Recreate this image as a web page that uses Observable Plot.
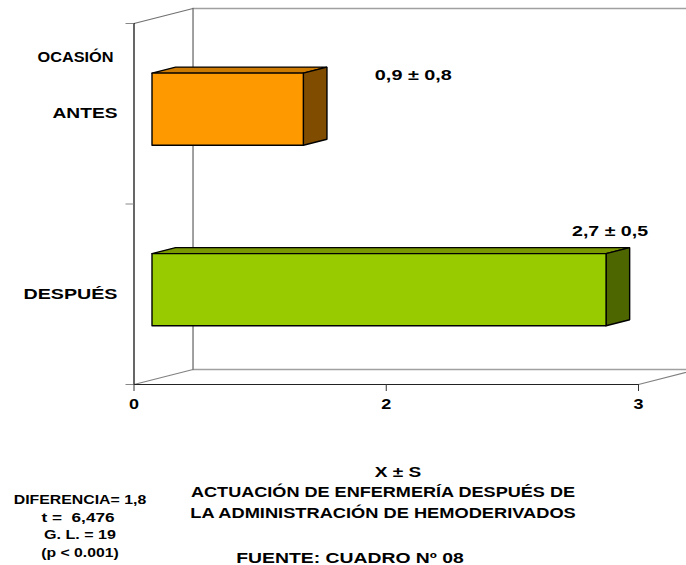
<!DOCTYPE html>
<html lang="es">
<head>
<meta charset="utf-8">
<script src="https://cdn.jsdelivr.net/npm/d3@7"></script>
<script src="https://cdn.jsdelivr.net/npm/@observablehq/plot@0.6"></script>
<style>
  html, body { margin: 0; padding: 0; background: #fff; overflow: hidden; }
  #page { position: relative; width: 686px; height: 565px; }
  .cap { position: absolute; font-family: "Liberation Sans", Arial, sans-serif; font-weight: bold; color: #000; text-align: center; white-space: pre; }
</style>
</head>
<body>
<div id="page"></div>
<script>
// Data
const categories = ["ANTES", "DESPUÉS"];
const levels = [1.5, 0.5];
const means = [0.9, 2.7];
const meanLabels = ["0,9 ± 0,8", "2,7 ± 0,5"];
const frontColors = ["#FF9900", "#99CC00"];
const sideColors = ["#804D00", "#4D6600"];
const topColors = ["#CC7A00", "#7A9900"];
const xTicks = [0, 1.5, 3];
const xTickLabels = ["0", "2", "3"];
const yTicks = [0, 1, 2];

// The source text is horizontally stretched: rendered width of each string
const textWidths = {
  "OCASIÓN": 76, "ANTES": 65, "DESPUÉS": 94,
  "0,9 ± 0,8": 77, "2,7 ± 0,5": 76,
  "0": 10, "2": 10, "3": 10
};

// 3-D projection of the chart box: depth 0 = front, depth 1 = back wall
const depthX = 0.351, depthY = 0.0831, xMax = 3, yMax = 2;
const barNear = 0.305, barFar = 0.705, barHalf = 0.2;
const P = (v, l, d) => ({x: v + d * depthX, y: l + d * depthY});

const wallTop = [P(0, yMax, 1), P(xMax, yMax, 1)];
const wallBottom = [P(0, 0, 1), P(xMax, 0, 1)];
const wallBack = [P(0, yMax, 1), P(0, 0, 1)];
const wallSide = [P(0, yMax, 0), P(0, yMax, 1)];
const floorSide = [P(0, 0, 0), P(0, 0, 1)];
const floorRight = [P(xMax, 0, 0), P(xMax, 0, 1)];
const frontAxisY = [P(0, 0, 0), P(0, yMax, 0)];
const frontAxisX = [P(0, 0, 0), P(xMax, 0, 0)];

const poly = (pts, color) => Plot.line([...pts, pts[0]], {x: "x", y: "y", fill: color, stroke: "black", strokeWidth: 1.4, strokeLinejoin: "miter"});

const barMarks = categories.flatMap((c, i) => {
  const v = means[i], l = levels[i];
  const lo = l - barHalf, hi = l + barHalf;
  return [
    poly([P(0, hi, barNear), P(0, hi, barFar), P(v, hi, barFar), P(v, hi, barNear)], topColors[i]),
    poly([P(v, lo, barNear), P(v, lo, barFar), P(v, hi, barFar), P(v, hi, barNear)], sideColors[i]),
    poly([P(0, lo, barNear), P(v, lo, barNear), P(v, hi, barNear), P(0, hi, barNear)], frontColors[i])
  ];
});

const font = {fontFamily: '"Liberation Sans", Arial, sans-serif', fontWeight: "bold", fill: "black", fontSize: 14.5};

const chart = Plot.plot({
  width: 686,
  height: 415,
  marginLeft: 133.5,
  marginRight: 48,
  marginTop: 23,
  marginBottom: 31,
  style: {background: "white"},
  x: {domain: [0, xMax]},
  y: {domain: [0, yMax]},
  marks: [
    Plot.line(wallTop, {x: "x", y: "y", stroke: "#a0a0a0", strokeWidth: 1.6}),
    Plot.line(wallBottom, {x: "x", y: "y", stroke: "#a0a0a0", strokeWidth: 1.6}),
    Plot.line(wallBack, {x: "x", y: "y", stroke: "#808080", strokeWidth: 1.5}),
    Plot.line(wallSide, {x: "x", y: "y", stroke: "#707070", strokeWidth: 1.2}),
    Plot.line(floorSide, {x: "x", y: "y", stroke: "#808080", strokeWidth: 1.2}),
    Plot.line(floorRight, {x: "x", y: "y", stroke: "#808080", strokeWidth: 1.2}),
    Plot.line(frontAxisY, {x: "x", y: "y", stroke: "black", strokeWidth: 1.2}),
    Plot.line(frontAxisX, {x: "x", y: "y", stroke: "#222", strokeWidth: 1.2}),
    Plot.axisX({ticks: xTicks, tickFormat: (d) => xTickLabels[xTicks.indexOf(d)], tickSize: 7, tickPadding: 7, label: null, stroke: "#333", ...font}),
    Plot.axisY({ticks: yTicks, tickFormat: () => "", tickSize: 8, label: null, stroke: "#888"}),
    ...barMarks,
    Plot.text(categories, {x: () => 0, y: (d, i) => levels[i], text: (d) => d, textAnchor: "end", dx: -16.5, ...font}),
    Plot.text(["OCASIÓN"], {x: () => 0, y: () => yMax, text: (d) => d, textAnchor: "end", dx: -20.5, dy: 34, ...font}),
    Plot.text([meanLabels[0]], {x: () => means[0], y: () => levels[0], text: (d) => d, dx: 128, dy: -38.5, ...font}),
    Plot.text([meanLabels[1]], {x: () => means[1], y: () => levels[1], text: (d) => d, dx: 22, dy: -62.5, ...font})
  ]
});

const page = document.getElementById("page");
page.appendChild(chart);

// Stretch the chart's text to its measured width
chart.querySelectorAll("text").forEach((t) => {
  const w = textWidths[t.textContent.trim()];
  if (w) {
    t.setAttribute("lengthAdjust", "spacingAndGlyphs");
    t.setAttribute("textLength", w);
  }
});

const captions = [
  {t: "X ± S", x: 397.5, y: 472, s: 14.5, w: 46},
  {t: "ACTUACIÓN DE ENFERMERÍA DESPUÉS DE", x: 383, y: 492, s: 14.5, w: 384},
  {t: "LA ADMINISTRACIÓN DE HEMODERIVADOS", x: 383, y: 513, s: 14.5, w: 385},
  {t: "FUENTE: CUADRO Nº 08", x: 350, y: 558, s: 14.5, w: 227},
  {t: "DIFERENCIA= 1,8", x: 80, y: 500, s: 12.5, w: 133},
  {t: "t =  6,476", x: 77.5, y: 518.5, s: 12.5, w: 73},
  {t: "G. L. = 19", x: 80, y: 535.5, s: 12.5, w: 72},
  {t: "(p < 0.001)", x: 80, y: 553, s: 12.5, w: 78}
];
for (const c of captions) {
  const el = document.createElement("div");
  el.className = "cap";
  el.textContent = c.t;
  el.style.left = c.x + "px";
  el.style.top = (c.y - c.s * 0.575) + "px";
  el.style.fontSize = c.s + "px";
  el.style.lineHeight = (c.s * 1.15) + "px";
  page.appendChild(el);
  el.style.transform = `translateX(-50%) scaleX(${c.w / el.offsetWidth})`;
}
</script>
</body>
</html>
